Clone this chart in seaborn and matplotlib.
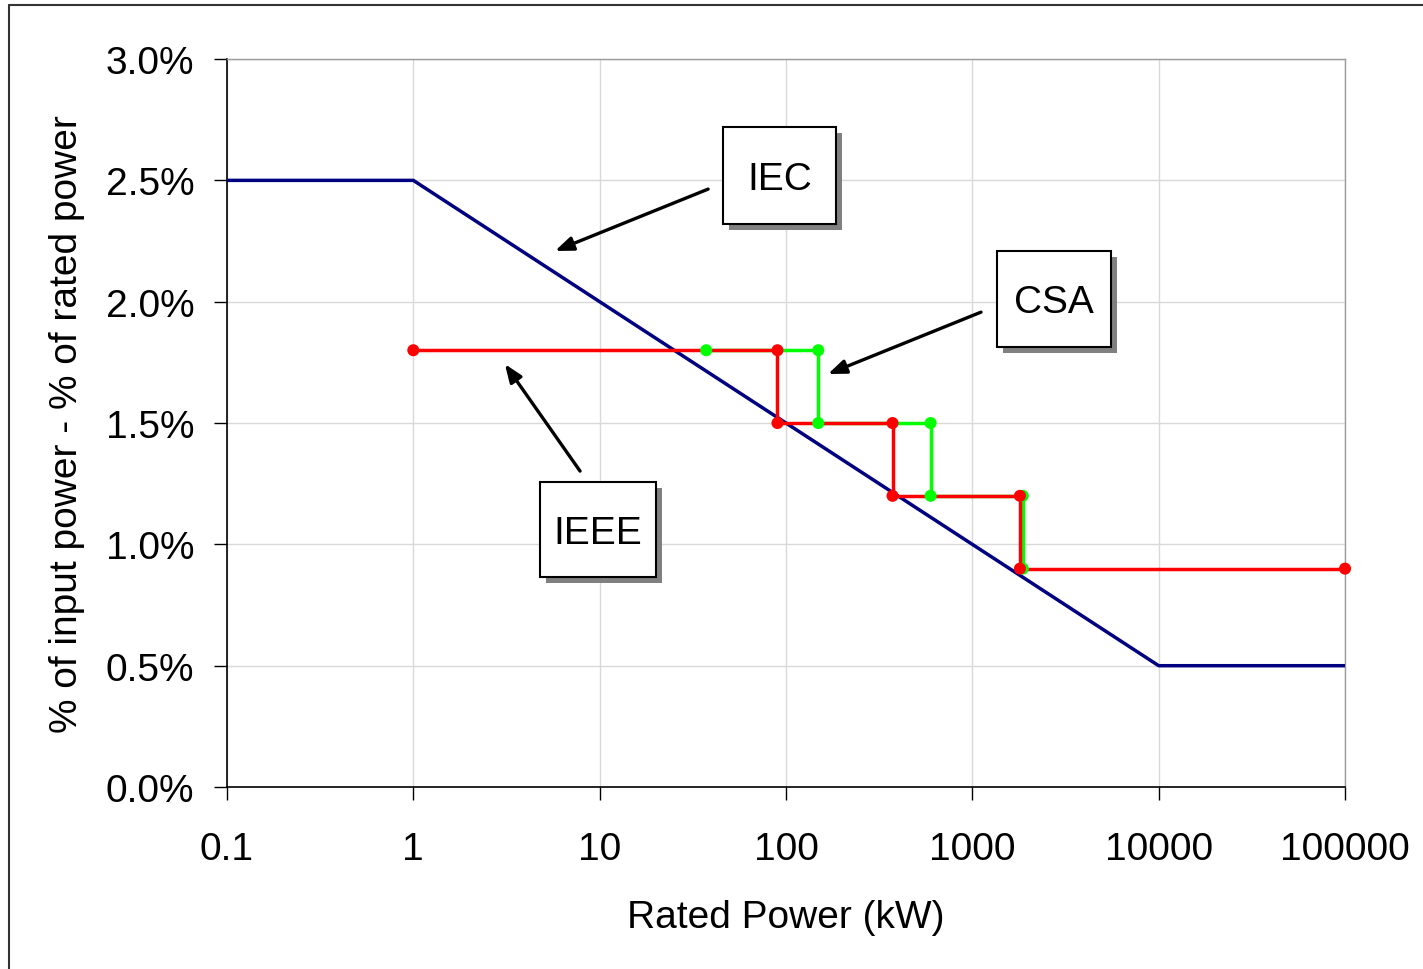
import matplotlib
matplotlib.use("Agg")
import matplotlib.pyplot as plt
from matplotlib.patches import Rectangle
from matplotlib.lines import Line2D
from matplotlib.ticker import PercentFormatter, FixedLocator, NullLocator
import seaborn as sns
import pandas as pd

# ---- data ----
iec_kw = [0.1, 1, 10000, 100000]
iec_pct = [0.025, 0.025, 0.005, 0.005]

ieee_kw = [1, 90, 90, 373, 373, 1800, 1800, 100000]
ieee_pct = [0.018, 0.018, 0.015, 0.015, 0.012, 0.012, 0.009, 0.009]

csa_kw = [37.3, 149, 149, 597, 597, 1865, 1865]
csa_pct = [0.018, 0.018, 0.015, 0.015, 0.012, 0.012, 0.009]

x_ticks = [0.1, 1, 10, 100, 1000, 10000, 100000]
x_tick_labels = ["0.1", "1", "10", "100", "1000", "10000", "100000"]
y_ticks = [0.0, 0.005, 0.010, 0.015, 0.020, 0.025, 0.030]

labels = ["IEC", "CSA", "IEEE"]

# ---- style ----
sns.set_theme(style="white")
plt.rcParams["font.family"] = ["Liberation Sans", "DejaVu Sans"]

FS = 28

fig = plt.figure(figsize=(14.23, 9.70), dpi=100)
ax = fig.add_axes([0.1595, 0.1876, 0.7857, 0.7505])

iec_df = pd.DataFrame({"kw": iec_kw, "pct": iec_pct})
ieee_df = pd.DataFrame({"kw": ieee_kw, "pct": ieee_pct})
csa_df = pd.DataFrame({"kw": csa_kw, "pct": csa_pct})

sns.lineplot(data=iec_df, x="kw", y="pct", ax=ax, color="#000080", lw=2.5,
             sort=False, estimator=None, zorder=3)
sns.lineplot(data=csa_df, x="kw", y="pct", ax=ax, color="#00ff00", lw=2.5,
             sort=False, estimator=None, zorder=3)
sns.lineplot(data=ieee_df, x="kw", y="pct", ax=ax, color="#ff0000", lw=2.5,
             sort=False, estimator=None, zorder=4)
sns.scatterplot(data=csa_df, x="kw", y="pct", ax=ax, color="#00ff00", s=75,
                edgecolor="none", zorder=5, clip_on=False)
sns.scatterplot(data=ieee_df, x="kw", y="pct", ax=ax, color="#ff0000", s=75,
                edgecolor="none", zorder=6, clip_on=False)

ax.set_xscale("log")
ax.set_xlim(0.1, 100000)
ax.set_ylim(0, 0.03)
ax.xaxis.set_major_locator(FixedLocator(x_ticks))
ax.set_xticklabels(x_tick_labels)
ax.xaxis.set_minor_locator(NullLocator())
ax.set_yticks(y_ticks)
ax.yaxis.set_major_formatter(PercentFormatter(xmax=1, decimals=1))

ax.grid(True, color="#d9d9d9", lw=1.0, zorder=0)
ax.set_axisbelow(True)
for s in ["left", "bottom"]:
    ax.spines[s].set_color("black")
    ax.spines[s].set_linewidth(1.2)
for s in ["top", "right"]:
    ax.spines[s].set_color("#9a9a9a")
    ax.spines[s].set_linewidth(1.0)

ax.tick_params(axis="both", which="major", direction="out", length=9.5,
               width=1.0, color="black", labelsize=FS, labelcolor="black",
               left=True, bottom=True)
ax.tick_params(axis="y", pad=14)
ax.tick_params(axis="x", pad=22)

ax.set_xlabel("Rated Power (kW)", fontsize=FS, labelpad=23, color="black")
ax.set_ylabel("% of input power - % of rated power", fontsize=FS,
              labelpad=15, color="black")

# ---- label boxes with shadows (axes fraction) ----
boxes = [
    (0.4436, 0.7734, 0.1011, 0.1332),
    (0.6887, 0.6044, 0.1020, 0.1319),
    (0.2800, 0.2885, 0.1038, 0.1305),
]
dx, dy = 6 / 1118, -6 / 728
for lab, (bx, by, bw, bh) in zip(labels, boxes):
    ax.add_patch(Rectangle((bx + dx, by + dy), bw, bh, transform=ax.transAxes,
                           facecolor="#808080", edgecolor="none", zorder=7))
    ax.add_patch(Rectangle((bx, by), bw, bh, transform=ax.transAxes,
                           facecolor="white", edgecolor="black", lw=1.5, zorder=8))
    ax.text(bx + bw / 2, by + bh / 2 - 3 / 728, lab, transform=ax.transAxes,
            ha="center", va="center", fontsize=FS, color="black", zorder=9)

# ---- arrows (data coords) ----
arrows = [
    ((5.76, 0.02209), (38.2, 0.02464)),
    ((168, 0.01702), (1113, 0.01957)),
    ((3.10, 0.01743), (7.85, 0.01302)),
]
for head, tail in arrows:
    ax.annotate("", xy=head, xytext=tail,
                arrowprops=dict(arrowstyle="-|>,head_length=0.9,head_width=0.35",
                                color="black", lw=2.4, shrinkA=0, shrinkB=0),
                zorder=9)

# ---- figure border (left and top edges) ----
fig.add_artist(Line2D([9 / 1423, 9 / 1423], [0, 1 - 6 / 970],
                      transform=fig.transFigure, color="#333333", lw=1.5))
fig.add_artist(Line2D([9 / 1423, 1], [1 - 6 / 970, 1 - 6 / 970],
                      transform=fig.transFigure, color="#333333", lw=1.5))

fig.savefig("out.png", dpi=100, facecolor="white")
